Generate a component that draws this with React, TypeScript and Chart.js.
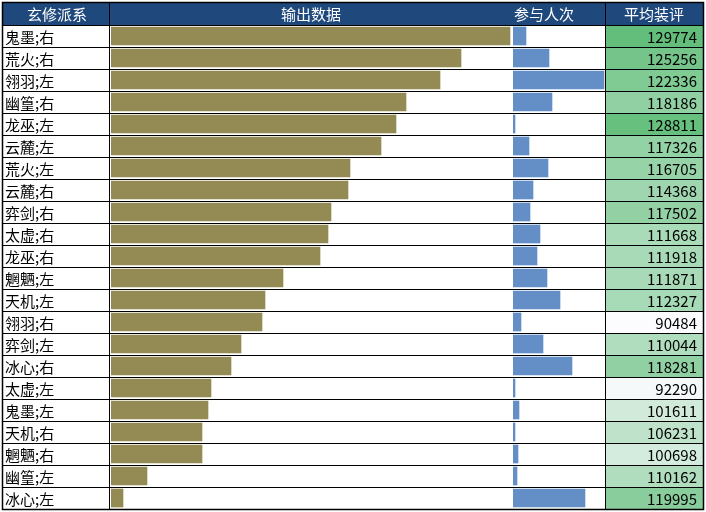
import React, { useEffect, useRef } from "react";
import { Chart, registerables } from "chart.js";

Chart.register(...registerables);

// ---- data ----
const categories = [
  "鬼墨;右", "荒火;右", "翎羽;左", "幽篁;右", "龙巫;左", "云麓;左", "荒火;左", "云麓;右",
  "弈剑;右", "太虚;右", "龙巫;右", "魍魉;左", "天机;左", "翎羽;右", "弈剑;左", "冰心;右",
  "太虚;左", "鬼墨;左", "天机;右", "魍魉;右", "幽篁;左", "冰心;左",
];
const outputData = [399, 350, 329, 295, 285, 270, 239, 237, 220, 217, 209, 172, 154, 151, 130, 120, 100, 97, 91, 91, 36, 12];
const participation = [13, 36, 91, 39, 2, 16, 35, 20, 17, 27, 24, 34, 47, 8, 30, 59, 2, 6, 2, 5, 4, 72];
const avgScore = [
  129774, 125256, 122336, 118186, 128811, 117326, 116705, 114368, 117502, 111668, 111918,
  111871, 112327, 90484, 110044, 118281, 92290, 101611, 106231, 100698, 110162, 119995,
];
const headers = ["玄修派系", "输出数据", "参与人次", "平均装评"];

// ---- styles ----
const W = 706;
const H = 512;
const FONT = '15px "Noto Sans CJK SC", "Noto Sans", sans-serif';
const HEADER_BG = "#1F497D";
const OLIVE = "#948A54";
const BLUE = "#638EC6";
const LOW = [252, 252, 255];
const HIGH = [99, 190, 123];
const TABLE_L = 2.5;
const TABLE_R = 703.5;
const TABLE_T = 2.5;
const COL1_R = 109.5;
const COL3_R = 605.5;
const HEADER_X = [57, 311, 544, 654];
const NUM_RIGHT = 697;
const LABEL_LEFT = 5;

function scaleColor(v: number): string {
  const mn = Math.min(...avgScore);
  const mx = Math.max(...avgScore);
  const t = (v - mn) / (mx - mn);
  const c = LOW.map((l, i) => Math.round(l + (HIGH[i] - l) * t));
  return `rgb(${c[0]},${c[1]},${c[2]})`;
}

const tablePlugin = {
  id: "tablePlugin",
  beforeDraw(chart: any) {
    const ctx = chart.ctx;
    const y = chart.scales.y;
    const rowH = y.getPixelForValue(1) - y.getPixelForValue(0);
    ctx.save();
    ctx.fillStyle = "#ffffff";
    ctx.fillRect(0, 0, chart.width, chart.height);
    const top0 = y.getPixelForValue(0) - rowH / 2;
    ctx.fillStyle = HEADER_BG;
    ctx.fillRect(TABLE_L, TABLE_T, TABLE_R - TABLE_L, top0 - TABLE_T);
    avgScore.forEach((v, i) => {
      const c = y.getPixelForValue(i);
      ctx.fillStyle = scaleColor(v);
      ctx.fillRect(COL3_R, c - rowH / 2, TABLE_R - COL3_R, rowH);
    });
    ctx.restore();
  },
  afterDatasetsDraw(chart: any) {
    const ctx = chart.ctx;
    const y = chart.scales.y;
    const rowH = y.getPixelForValue(1) - y.getPixelForValue(0);
    const top0 = y.getPixelForValue(0) - rowH / 2;
    const bottom = y.getPixelForValue(categories.length - 1) + rowH / 2;
    ctx.save();
    // grid lines
    ctx.strokeStyle = "#000000";
    ctx.lineWidth = 1;
    ctx.beginPath();
    for (let i = 0; i <= categories.length; i++) {
      const yy = Math.round(top0 + i * rowH) + 0.5;
      ctx.moveTo(TABLE_L, yy);
      ctx.lineTo(TABLE_R, yy);
    }
    [COL1_R, COL3_R].forEach((x) => {
      ctx.moveTo(x, TABLE_T);
      ctx.lineTo(x, bottom + 0.5);
    });
    ctx.stroke();
    ctx.lineWidth = 1.5;
    ctx.strokeRect(TABLE_L, TABLE_T, TABLE_R - TABLE_L, bottom + 0.5 - TABLE_T);

    // header text
    ctx.font = FONT;
    ctx.textBaseline = "middle";
    ctx.textAlign = "center";
    ctx.fillStyle = "#ffffff";
    const hy = (TABLE_T + top0) / 2 + 1;
    headers.forEach((h, i) => ctx.fillText(h, HEADER_X[i], hy));

    // body text
    ctx.fillStyle = "#000000";
    categories.forEach((c, i) => {
      const cy = y.getPixelForValue(i) + 1;
      ctx.textAlign = "left";
      ctx.fillText(c, LABEL_LEFT, cy);
      ctx.textAlign = "right";
      ctx.fillText(String(avgScore[i]), NUM_RIGHT, cy);
    });
    ctx.restore();
  },
};

export default function App() {
  const ref = useRef<HTMLCanvasElement | null>(null);
  useEffect(() => {
    if (!ref.current) return;
    const chart = new Chart(ref.current, {
      type: "bar",
      data: {
        labels: categories,
        datasets: [
          {
            label: "输出数据",
            data: outputData,
            xAxisID: "x1",
            backgroundColor: OLIVE,
            borderWidth: 0,
            barThickness: 18,
            grouped: false,
          },
          {
            label: "参与人次",
            data: participation,
            xAxisID: "x2",
            backgroundColor: BLUE,
            borderWidth: 0,
            barThickness: 18,
            grouped: false,
          },
        ],
      },
      options: {
        animation: false,
        responsive: false,
        indexAxis: "y",
        layout: { padding: { left: 111, right: 101, top: 25, bottom: 3 } },
        plugins: { legend: { display: false }, tooltip: { enabled: false } },
        scales: {
          y: { type: "category", display: false, offset: true },
          x1: { type: "linear", position: "bottom", stack: "cols", stackWeight: 402, min: 0, max: 402, display: false },
          x2: { type: "linear", position: "bottom", stack: "cols", stackWeight: 92, min: 0, max: 92, display: false },
        },
      },
      plugins: [tablePlugin],
    } as any);
    return () => chart.destroy();
  }, []);
  return (
    <div style={{ position: "absolute", left: 0, top: 0, width: W, height: H }}>
      <canvas ref={ref} width={W} height={H} />
    </div>
  );
}
